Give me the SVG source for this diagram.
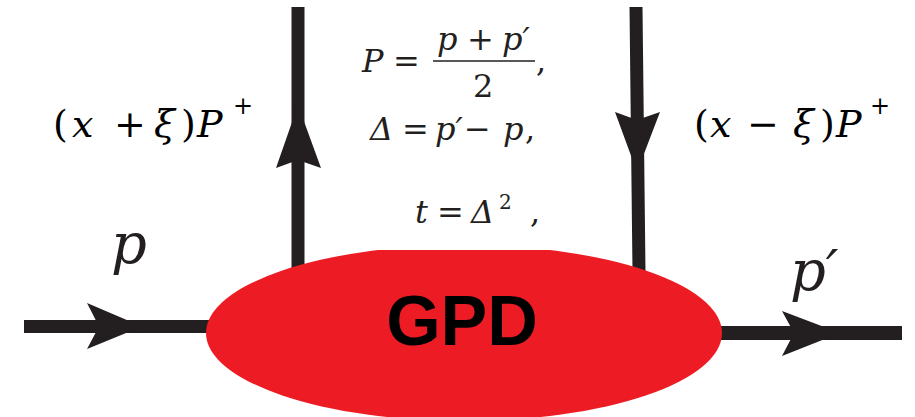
<svg xmlns="http://www.w3.org/2000/svg" width="915" height="417" viewBox="0 0 915 417">
<style>
.m{fill:#231F20;font-family:'DejaVu Serif',serif}
.i{font-style:italic}
.lbl{fill:#000;font-size:38px;font-family:'DejaVu Serif',serif}
.sup{fill:#000;font-size:24px;font-family:'DejaVu Serif',serif}
.ln{stroke:#231F20;fill:none}
.ah{fill:#231F20}
.gpd{font-family:'Liberation Sans',Arial,sans-serif;font-weight:bold;font-size:70px;fill:#000}
</style>
<defs>
<clipPath id="clipTop"><rect x="0" y="250" width="915" height="167"/></clipPath>
</defs>
<rect width="915" height="417" fill="#fff"/>
<g id="connectors">
<line class="ln" x1="298" y1="7" x2="298" y2="272" stroke-width="13"/>
<polygon class="ah" points="298,105 321,168 298,160 276,168"/>
<line class="ln" x1="636" y1="7" x2="639" y2="272" stroke-width="13"/>
<polygon class="ah" points="637,172 660,112 637,120 615,112"/>
<line class="ln" x1="24" y1="326.5" x2="210" y2="326.5" stroke-width="13"/>
<polygon class="ah" points="142,326.5 87,349 99,326.5 87,303"/>
<line class="ln" x1="715" y1="333" x2="902" y2="333" stroke-width="14"/>
<polygon class="ah" points="840,333 782,356 794,333 782,311"/>
</g>
<g id="gpd">
<ellipse cx="464" cy="333" rx="258" ry="88" fill="#ED1C24" clip-path="url(#clipTop)"/>
<text class="gpd" x="462" y="345" text-anchor="middle">GPD</text>
</g>
<g id="formulas">
<text class="m i" x="362" y="72" font-size="32">P</text>
<text class="m" x="393" y="72" font-size="32">=</text>
<text class="m i" x="437" y="50" font-size="32">p</text>
<text class="m" x="467" y="50" font-size="32">+</text>
<text class="m i" x="502" y="50" font-size="32">p′</text>
<line x1="433" y1="61" x2="535" y2="61" stroke="#231F20" stroke-width="1.5"/>
<text class="m" x="473" y="97" font-size="32">2</text>
<text class="m" x="536" y="72" font-size="32">,</text>
<text class="m i" x="370" y="140" font-size="32">Δ</text>
<text class="m" x="402" y="140" font-size="32">=</text>
<text class="m i" x="435" y="140" font-size="32">p′</text>
<text class="m" x="464" y="140" font-size="32">−</text>
<text class="m i" x="503" y="140" font-size="32">p</text>
<text class="m" x="525" y="140" font-size="32">,</text>
<text class="m i" x="415" y="223" font-size="32">t</text>
<text class="m" x="437" y="223" font-size="32">=</text>
<text class="m i" x="471" y="223" font-size="32">Δ</text>
<text class="m" x="499" y="209" font-size="20">2</text>
<text class="m" x="530" y="223" font-size="32">,</text>
</g>
<g id="labels">
<text class="lbl" x="53" y="137">(</text>
<text class="lbl i" x="72" y="137">x</text>
<text class="lbl" x="114" y="137">+</text>
<text class="lbl i" x="154" y="137">ξ</text>
<text class="lbl" x="181" y="137">)</text>
<text class="lbl i" x="197" y="137">P</text>
<text class="sup" x="233" y="114">+</text>
<text class="lbl" x="694" y="137">(</text>
<text class="lbl i" x="710" y="137">x</text>
<text class="lbl" x="747" y="137">−</text>
<text class="lbl i" x="793" y="137">ξ</text>
<text class="lbl" x="820" y="137">)</text>
<text class="lbl i" x="836" y="137">P</text>
<text class="sup" x="870" y="114">+</text>
<text class="m i" x="111" y="263" font-size="56">p</text>
<text class="m i" x="790" y="290" font-size="56">p′</text>
</g>
</svg>
